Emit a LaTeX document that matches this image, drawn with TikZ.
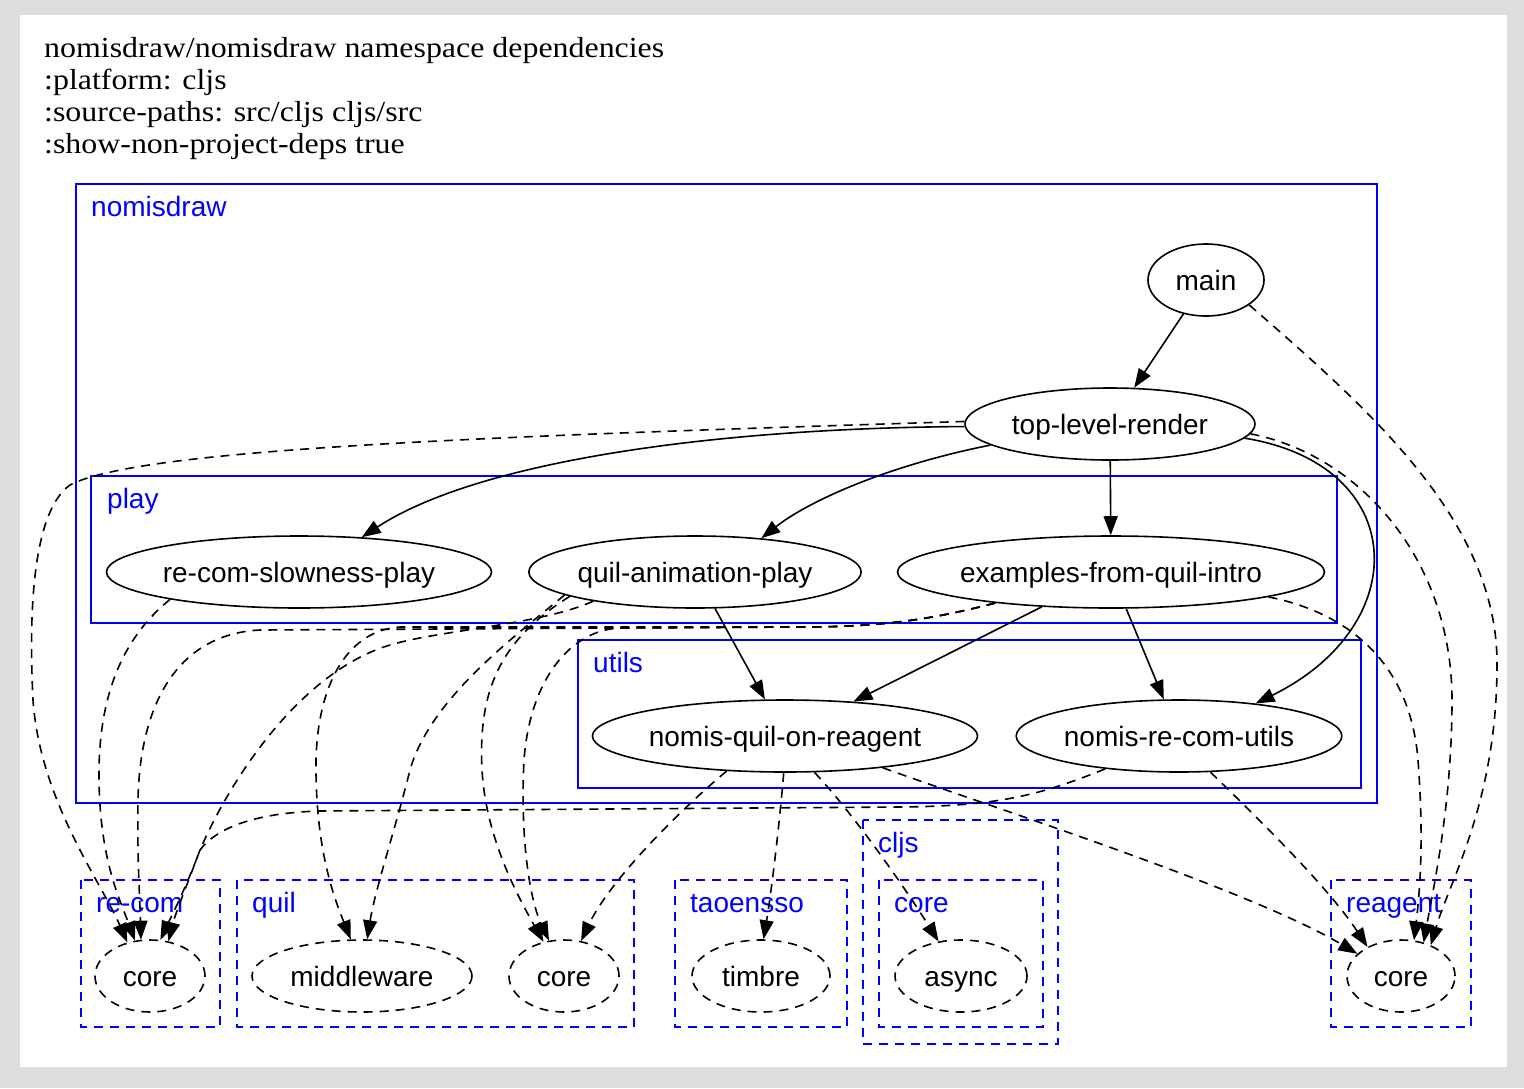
\documentclass[tikz,border=0pt]{standalone}
\usepackage{fontspec}
\setmainfont{Liberation Serif}
\setsansfont{Liberation Sans}
\newfontfamily\titlefont[FakeStretch=1.1]{Liberation Serif}
\usetikzlibrary{arrows.meta, shapes.geometric}

\definecolor{pagegrey}{RGB}{221,221,221}
\definecolor{clusterblue}{RGB}{0,0,255}

\tikzset{
	ns/.style={draw, ellipse, inner sep=0pt, minimum height=72pt, text height=23pt, text depth=3pt, line width=1.6pt, font=\sffamily\fontsize{28}{32}\selectfont},
	extns/.style={ns, dash pattern=on 9pt off 7pt},
	dep/.style={line width=1.6pt, -{Triangle[length=19pt,width=14pt]}},
	extdep/.style={dep, dash pattern=on 9pt off 7pt},
	cluster/.style={draw=clusterblue, line width=2.4pt},
	extcluster/.style={cluster, dash pattern=on 9pt off 7pt},
	clabel/.style={anchor=base west, inner sep=0pt, text=clusterblue, font=\sffamily\fontsize{28}{32}\selectfont}
}

\begin{document}
\begin{tikzpicture}[x=1pt,y=-1pt]
					\def\rowA{572};
					\def\rowB{736};
					\def\rowC{976};

					\useasboundingbox (0,0) rectangle (1524,1088);
					\fill[pagegrey] (0,0) rectangle (1524,1088);
					\fill[white] (20,15) rectangle (1507,1067);

					\foreach \txt [count=\i] in {nomisdraw/nomisdraw namespace dependencies, :platform: cljs, :source-paths: src/cljs cljs/src, :show-non-project-deps true}
					{
						\node[anchor=base west, inner sep=0pt, font=\titlefont\fontsize{29}{32}\selectfont] (title\i) at (44,25+32*\i) {\txt};
					}

					\begin{scope}
						\draw[cluster] (76,184) rectangle (1377,803);
						\node[clabel] (nomisdrawlabel) at (91,216) {nomisdraw};
						\draw[cluster] (91,476) rectangle (1337,623);
						\node[clabel] (playlabel) at (107,508) {play};
						\draw[cluster] (578,640) rectangle (1361,788);
						\node[clabel] (utilslabel) at (593,672) {utils};
					\end{scope}

					\begin{scope}
						\draw[extcluster] (81,880) rectangle (220,1027);
						\node[clabel] (recomlabel) at (96,912) {re-com};
						\draw[extcluster] (237,880) rectangle (634,1027);
						\node[clabel] (quillabel) at (252,912) {quil};
						\draw[extcluster] (675,880) rectangle (847,1027);
						\node[clabel] (taoenssolabel) at (690,912) {taoensso};
						\draw[extcluster] (863,820) rectangle (1058,1044);
						\node[clabel] (cljslabel) at (878,852) {cljs};
						\draw[extcluster] (879,880) rectangle (1043,1027);
						\node[clabel] (cljscorelabel) at (894,912) {core};
						\draw[extcluster] (1331,880) rectangle (1471,1027);
						\node[clabel] (reagentlabel) at (1346,912) {reagent};
					\end{scope}

					\begin{scope}
						\node[ns, minimum width=116pt] (main) at (1206,280) {main};
						\node[ns, minimum width=290pt] (tlr) at (1110,424) {top-level-render};
						\node[ns] (rcsp) at (299,\rowA) {re-com-slowness-play};
						\node[ns] (qap) at (695,\rowA) {quil-animation-play};
						\node[ns] (efqi) at (1111,\rowA) {examples-from-quil-intro};
						\node[ns] (nqor) at (785,\rowB) {nomis-quil-on-reagent};
						\node[ns] (nrcu) at (1179,\rowB) {nomis-re-com-utils};

						\node[extns, minimum width=110pt] (recomcore) at (150,\rowC) {core};
						\node[extns, minimum width=220pt] (middleware) at (362,\rowC) {middleware};
						\node[extns, minimum width=110pt] (quilcore) at (564,\rowC) {core};
						\node[extns, minimum width=138pt] (timbre) at (761,\rowC) {timbre};
						\node[extns, minimum width=132pt] (async) at (961,\rowC) {async};
						\node[extns, minimum width=108pt] (reagentcore) at (1401,\rowC) {core};
					\end{scope}

					\begin{scope}
						\draw[dep] (main) -- (tlr);
						\draw[dep] (tlr) -- (efqi);
						\draw[dep] (tlr.181) .. controls (720,428) and (480,460) .. (rcsp.29);
						\draw[dep] (tlr.190) .. controls (890,465) and (810,500) .. (qap.27);
						\draw[dep] (tlr.354) .. controls (1410,465) and (1415,625) .. (nrcu.23);
						\draw[dep] (qap) -- (nqor);
						\draw[dep] (efqi) -- (nqor);
						\draw[dep] (efqi) -- (nrcu);
					\end{scope}

					\begin{scope}
						\draw[extdep] (main.-30) .. controls (1370,410) and (1495,520) .. (1497,660) .. controls (1498,800) and (1450,880) .. (reagentcore.46);
						\draw[extdep] (tlr.179) .. controls (500,436) and (140,448) .. (70,485) .. controls (35,510) and (28,600) .. (33,700) .. controls (40,800) and (100,880) .. (recomcore.124);
						\draw[extdep] (tlr.356) .. controls (1360,455) and (1452,560) .. (1452,700) .. controls (1452,800) and (1435,880) .. (reagentcore.56);
						\draw[extdep] (rcsp.192) .. controls (120,640) and (98,700) .. (99,780) .. controls (100,860) and (120,900) .. (recomcore.113);
						\draw[extdep] (qap.196) .. controls (540,625) and (440,630) .. (390,645) .. controls (300,672) and (230,780) .. (200,850) .. controls (185,890) and (175,915) .. (recomcore.62);
						\draw[extdep] (qap.190) .. controls (510,640) and (430,700) .. (410,770) .. controls (395,830) and (375,890) .. (middleware.82);
						\draw[extdep] (qap.191) .. controls (500,640) and (478,690) .. (482,770) .. controls (486,840) and (520,900) .. (quilcore.121);
						\draw[extdep] (efqi.195) .. controls (930,620) and (880,627) .. (800,627) -- (260,630) .. controls (180,634) and (140,700) .. (138,800) .. controls (137,860) and (140,900) .. (recomcore.104);
						\draw[extdep] (efqi.195) .. controls (930,620) and (880,627) .. (800,627) -- (400,627) .. controls (350,630) and (318,680) .. (316,760) .. controls (315,850) and (335,900) .. (middleware.107);
						\draw[extdep] (efqi.195) .. controls (930,620) and (880,627) .. (800,627) -- (620,628) .. controls (570,630) and (530,680) .. (524,760) .. controls (520,840) and (530,900) .. (quilcore.113);
						\draw[extdep] (efqi.351) .. controls (1345,612) and (1410,660) .. (1418,760) .. controls (1424,840) and (1420,890) .. (reagentcore.70);
						\draw[extdep] (nqor.211) .. controls (680,810) and (610,880) .. (quilcore.64);
						\draw[extdep] (nqor.268) .. controls (778,840) and (770,900) .. (timbre.86);
						\draw[extdep] (nqor.309) .. controls (850,810) and (900,880) .. (async.123);
						\draw[extdep] (nqor.-18) .. controls (1000,810) and (1250,890) .. (reagentcore.153);
						\draw[extdep] (nrcu.204) .. controls (1040,795) and (1000,806) .. (900,807) -- (320,811) .. controls (250,813) and (215,830) .. (200,850) .. controls (185,890) and (172,915) .. (recomcore.74);
						\draw[extdep] (nrcu.-49) .. controls (1270,830) and (1330,890) .. (reagentcore.139);
					\end{scope}
				\end{tikzpicture}
\end{document}
